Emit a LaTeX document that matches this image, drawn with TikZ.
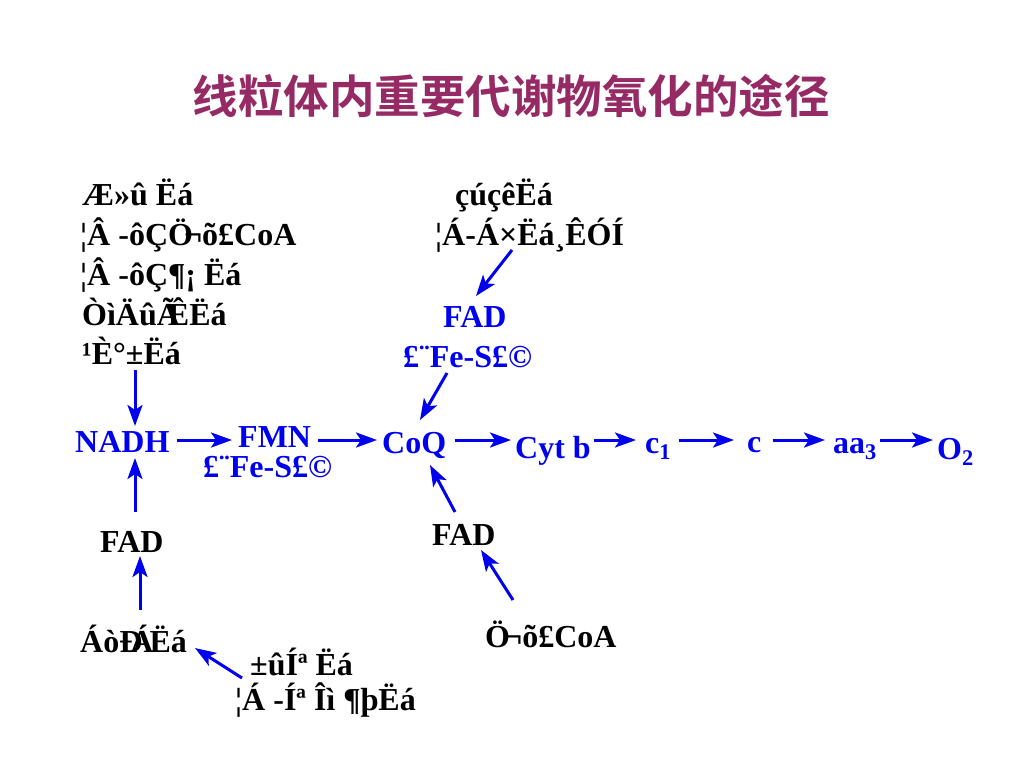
\documentclass[tikz,border=0pt]{standalone}
\usepackage{fontspec}
\setmainfont{Liberation Serif}
\newfontfamily\cjk{Noto Sans CJK SC Bold}
\usetikzlibrary{arrows.meta,calc}
\definecolor{titlecol}{RGB}{150,42,100}
\definecolor{chainblue}{RGB}{0,0,240}
\tikzset{
  lbl/.style={anchor=base west,inner sep=0pt,font=\fontsize{32}{32}\selectfont\bfseries},
  blk/.style={lbl,text=black},
  blu/.style={lbl,text=chainblue},
  arr/.style={draw=chainblue,line width=3pt,-{Stealth[length=21pt,width=15pt,inset=5pt]}}
}
\begin{document}
\begin{tikzpicture}[x=1pt,y=-1pt]
\useasboundingbox[fill=white] (0,0) rectangle (1024,768);
\node[anchor=center,inner sep=0pt,text=titlecol,font=\cjk\fontsize{45.5}{45.5}\selectfont] (title) at (511,96) {线粒体内重要代谢物氧化的途径};
\coordinate (row) at (0,440);
% left list
\node[blk] (l1) at (82,205) {Æ»û Ëá};
\node[blk] (l2) at (80,245) {¦Â -ôÇÖ\kern-9pt¬õ£CoA};
\node[blk] (l3) at (80,285) {¦Â -ôÇ¶¡ Ëá};
\node[blk] (l4) at (82,325) {ÒìÄûÃ\kern-12ptÊËá};
\node[blk] (l5) at (82,364) {¹È°±Ëá};
% chain
\node[blu] (nadh) at (75,452) {NADH};
\node[blu] (fmn) at (238,447) {FMN};
\node[blu] (fes1) at (203,477) {£¨Fe-S£©};
\node[blu] (coq) at (382,453) {CoQ};
\node[blu] (cytb) at (515,458) {Cyt b};
\node[blu] (c1) at (645,453) {c$_{\mathbf 1}$};
\node[blu] (c) at (747,452) {c};
\node[blu] (aa3) at (833,453) {aa$_{\mathbf 3}$};
\node[blu] (o2) at (937,459) {O$_{\mathbf 2}$};
% top middle
\node[blk] (succ) at (455,205) {çúçêËá};
\node[blk] (pg) at (435,245) {¦Á-Á×Ëá¸ÊÓÍ};
\node[blu] (fadb) at (443,327) {FAD};
\node[blu] (fes2) at (403,367) {£¨Fe-S£©};
% lower
\node[blk] (fadl) at (100,552) {FAD};
\node[blk] (lipo) at (80,652) {ÁòÐ\kern-12ptÁ\kern-4ptËá};
\node[blk] (pyr) at (250,675) {±ûÍª Ëá};
\node[blk] (akg) at (235,710) {¦Á -Íª Îì ¶þËá};
\node[blk] (fadr) at (432,545) {FAD};
\node[blk] (acyl) at (485,647) {Ö\kern-6pt¬õ£CoA};
% vertical / diagonal arrows
\draw[arr] ([shift={(53,6)}]l5.base west) -- ([shift={(60,-26)}]nadh.base west);
\draw[arr] ([shift={(35,-40)}]fadl.base west) -- ([shift={(60,6)}]nadh.base west);
\draw[arr] ([shift={(60,-42)}]lipo.base west) -- ([shift={(40,4)}]fadl.base west);
\draw[arr] ([shift={(-8,3)}]pyr.base west) -- ([shift={(115,-4)}]lipo.base west);
\draw[arr] ([shift={(77,5)}]pg.base west) -- ([shift={(33,-31)}]fadb.base west);
\draw[arr] ([shift={(44,6)}]fes2.base west) -- ([shift={(38,-33)}]coq.base west);
\draw[arr] ([shift={(23,-33)}]fadr.base west) -- ([shift={(48,12)}]coq.base west);
\draw[arr] ([shift={(28,-47)}]acyl.base west) -- ([shift={(49,5)}]fadr.base west);
% horizontal chain arrows
\draw[arr,shorten <=7pt,shorten >=6pt] (nadh.east |- row) -- (fmn.west |- row);
\draw[arr,shorten <=7pt,shorten >=5pt] (fmn.east |- row) -- (coq.west |- row);
\draw[arr,shorten <=9pt,shorten >=4pt] (coq.east |- row) -- (cytb.west |- row);
\draw[arr,shorten <=3pt,shorten >=9pt] (cytb.east |- row) -- (c1.west |- row);
\draw[arr,shorten <=8pt,shorten >=13pt] (c1.east |- row) -- (c.west |- row);
\draw[arr,shorten <=11pt,shorten >=8pt] (c.east |- row) -- (aa3.west |- row);
\draw[arr,shorten <=3pt,shorten >=4pt] (aa3.east |- row) -- (o2.west |- row);
\end{tikzpicture}
\end{document}
